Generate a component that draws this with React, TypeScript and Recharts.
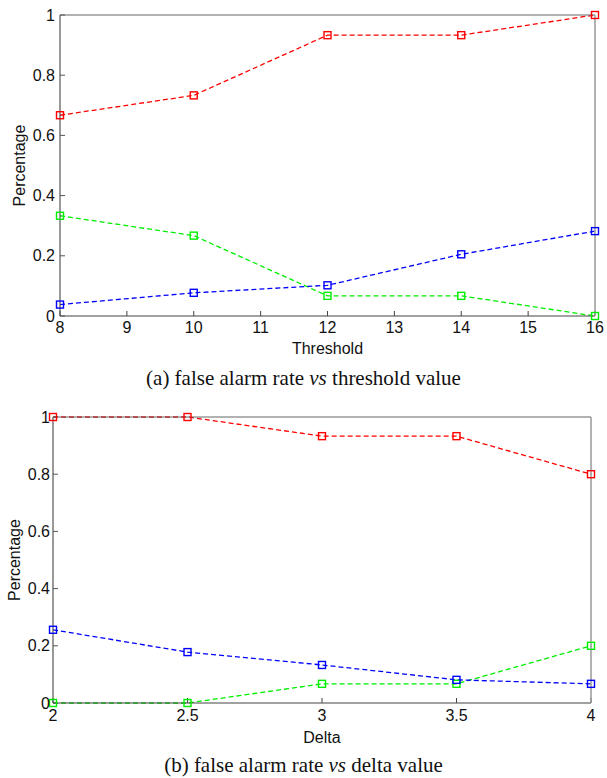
import React from 'react';
import { LineChart, Line, XAxis, YAxis } from 'recharts';

const thresholds = [8, 10, 12, 14, 16];
const aRed = [0.667, 0.733, 0.933, 0.933, 1.0];
const aGreen = [0.333, 0.267, 0.067, 0.067, 0.0];
const aBlue = [0.038, 0.077, 0.102, 0.205, 0.282];
const thresholdTicks = [8, 9, 10, 11, 12, 13, 14, 15, 16];

const deltas = [2, 2.5, 3, 3.5, 4];
const bRed = [1.0, 1.0, 0.933, 0.933, 0.8];
const bGreen = [0.0, 0.0, 0.067, 0.067, 0.2];
const bBlue = [0.256, 0.178, 0.133, 0.081, 0.067];
const deltaTicks = [2, 2.5, 3, 3.5, 4];

const yTicks = [0, 0.2, 0.4, 0.6, 0.8, 1];

const dataA = thresholds.map((x, i) => ({ x, red: aRed[i], green: aGreen[i], blue: aBlue[i] }));
const dataB = deltas.map((x, i) => ({ x, red: bRed[i], green: bGreen[i], blue: bBlue[i] }));

const SANS = 'Liberation Sans, Arial, sans-serif';
const SERIF = 'Liberation Serif, Times New Roman, serif';

const makeDot = (color: string) => (props: any) => {
  const { cx, cy, index } = props;
  if (cx == null || cy == null) return <g key={`d${index}`} />;
  return (
    <rect
      key={`d${index}`}
      x={cx - 3.5}
      y={cy - 3.5}
      width={7}
      height={7}
      fill="none"
      stroke={color}
      strokeWidth={1.4}
    />
  );
};

const fmt = (v: number) => String(v);

const series = [
  { key: 'red', color: '#ff0000' },
  { key: 'green', color: '#00ee00' },
  { key: 'blue', color: '#0000ff' },
];

function Panel(props: {
  data: any[];
  xTicks: number[];
  xDomain: [number, number];
  xLabel: string;
  height: number;
  top: number;
  yAxisWidth: number;
  right: number;
  xAxisHeight: number;
  xTickMargin: number;
  yTickMargin: number;
  xLabelOffset: number;
  yLabelOffset: number;
}) {
  const tickStyle = { fontFamily: SANS, fontSize: 16, fill: '#111' };
  return (
    <LineChart
      width={607}
      height={props.height}
      data={props.data}
      margin={{ top: props.top - 1, right: props.right - 1, left: 0, bottom: 0 }}
    >
      <XAxis
        xAxisId="b"
        dataKey="x"
        type="number"
        domain={props.xDomain}
        ticks={props.xTicks}
        tickFormatter={fmt}
        orientation="bottom"
        height={props.xAxisHeight}
        tickSize={-5}
        tickMargin={props.xTickMargin}
        tick={tickStyle}
        stroke="#444"
        axisLine={{ stroke: '#444', strokeWidth: 1.2 }}
        tickLine={{ stroke: '#444' }}
        interval={0}
        label={{
          value: props.xLabel,
          position: 'insideBottom',
          offset: props.xLabelOffset,
          style: { fontFamily: SANS, fontSize: 16, fill: '#111' },
        }}
      />
      <XAxis
        xAxisId="t"
        dataKey="x"
        type="number"
        domain={props.xDomain}
        ticks={props.xTicks}
        orientation="top"
        height={1}
        tickSize={-5}
        tick={false}
        interval={0}
        axisLine={{ stroke: '#666', strokeWidth: 1.2 }}
        tickLine={{ stroke: '#666' }}
      />
      <YAxis
        yAxisId="l"
        type="number"
        domain={[0, 1]}
        ticks={yTicks}
        tickFormatter={fmt}
        width={props.yAxisWidth}
        tickSize={-5}
        tickMargin={props.yTickMargin}
        tick={tickStyle}
        interval={0}
        axisLine={{ stroke: '#555', strokeWidth: 1.2 }}
        tickLine={{ stroke: '#555' }}
        label={{
          value: 'Percentage',
          angle: -90,
          position: 'insideLeft',
          offset: props.yLabelOffset,
          style: { fontFamily: SANS, fontSize: 16, fill: '#111', textAnchor: 'middle' },
        }}
      />
      <YAxis
        yAxisId="r"
        orientation="right"
        type="number"
        domain={[0, 1]}
        ticks={yTicks}
        width={1}
        tickSize={-5}
        tick={false}
        interval={0}
        axisLine={{ stroke: '#999', strokeWidth: 1.5 }}
        tickLine={{ stroke: '#666' }}
      />
      <Line
        xAxisId="t"
        yAxisId="r"
        dataKey="red"
        stroke="none"
        strokeOpacity={0}
        dot={false}
        activeDot={false}
        legendType="none"
        isAnimationActive={false}
      />
      {series.map((s) => (
        <Line
          key={s.key}
          xAxisId="b"
          yAxisId="l"
          dataKey={s.key}
          stroke={s.color}
          strokeWidth={1.3}
          strokeDasharray="5 3"
          dot={makeDot(s.color)}
          activeDot={false}
          isAnimationActive={false}
          type="linear"
        />
      ))}
    </LineChart>
  );
}

const captionStyle: React.CSSProperties = {
  position: 'absolute',
  left: 0,
  width: 607,
  textAlign: 'center',
  fontFamily: SERIF,
  fontSize: 21,
  lineHeight: '24px',
  color: '#111',
  whiteSpace: 'nowrap',
};

export default function App() {
  return (
    <div style={{ position: 'absolute', left: 0, top: 0, width: 607, height: 778, background: '#fff' }}>
      <div style={{ position: 'absolute', left: 0, top: 0 }}>
        <Panel
          data={dataA}
          xTicks={thresholdTicks}
          xDomain={[8, 16]}
          xLabel="Threshold"
          height={360}
          top={15}
          yAxisWidth={60}
          right={12}
          xAxisHeight={44}
          xTickMargin={11}
          yTickMargin={10}
          xLabelOffset={6}
          yLabelOffset={19}
        />
      </div>
      <div style={{ ...captionStyle, top: 366 }}>
        (a) false alarm rate <i>vs</i> threshold value
      </div>
      <div style={{ position: 'absolute', left: 0, top: 400 }}>
        <Panel
          data={dataB}
          xTicks={deltaTicks}
          xDomain={[2, 4]}
          xLabel="Delta"
          height={350}
          top={17}
          yAxisWidth={53}
          right={16}
          xAxisHeight={47}
          xTickMargin={12}
          yTickMargin={8}
          xLabelOffset={7}
          yLabelOffset={14}
        />
      </div>
      <div style={{ ...captionStyle, top: 753 }}>
        (b) false alarm rate <i>vs</i> delta value
      </div>
    </div>
  );
}
